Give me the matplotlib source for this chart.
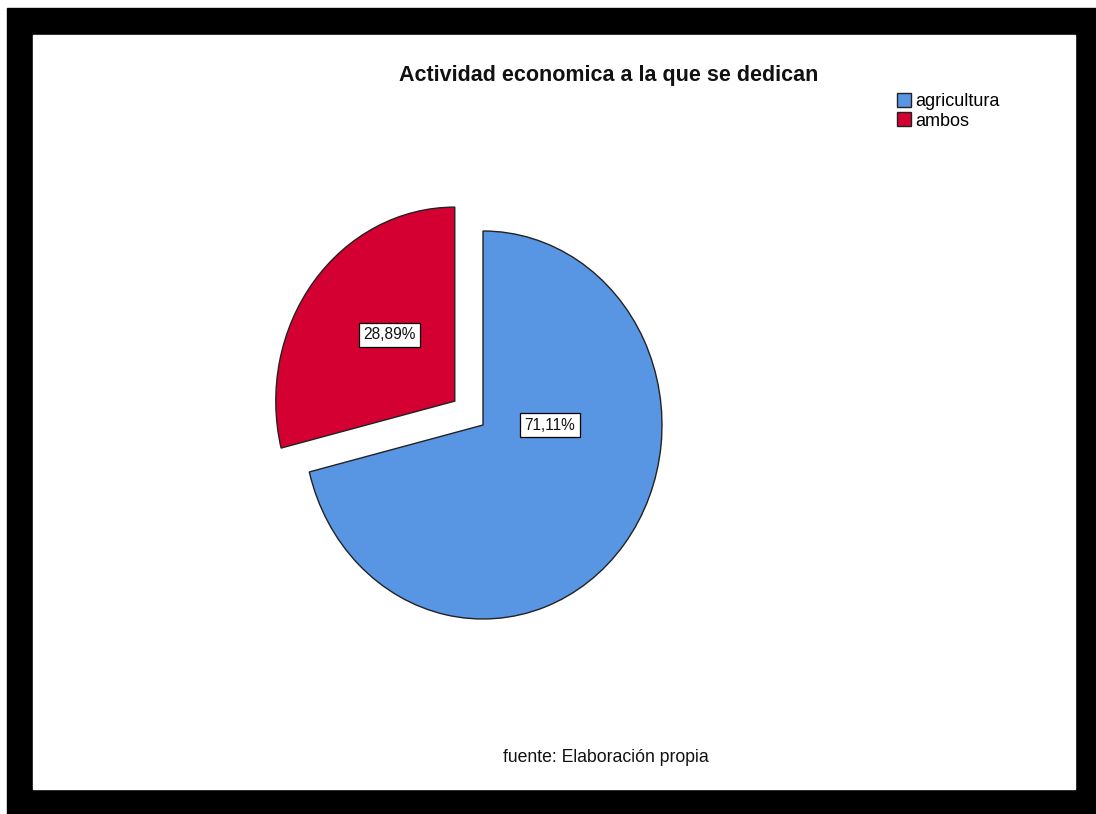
import matplotlib.pyplot as plt
from matplotlib import font_manager
from matplotlib.patches import Rectangle

# Actividad económica: porcentajes por categoría
categorias = ["agricultura", "ambos"]
porcentajes = [71.11, 28.89]
colores = ["#5895E3", "#D50032"]
separacion = [0.0, 0.2]

titulo = "Actividad economica a la que se dedican"
fuente = "fuente: Elaboración propia"

W, H = 1096, 814
fig = plt.figure(figsize=(W / 100, H / 100), dpi=100)
fig.patch.set_facecolor("white")
plt.rcParams["font.family"] = ["Liberation Sans", "DejaVu Sans"]

# narrow face for the percentage boxes, if it is around
nombres = {f.name for f in font_manager.fontManager.ttflist}
if "Liberation Sans Narrow" in nombres:
    fam_etq, tam_etq = ["Liberation Sans Narrow", "Liberation Sans"], 13
else:
    fam_etq, tam_etq = ["Liberation Sans", "DejaVu Sans"], 11.2


def px_rect(x0, y0, x1, y1):
    # pixel box (top-left origin) -> figure fraction
    return [x0 / W, 1 - y1 / H, (x1 - x0) / W, (y1 - y0) / H]


# black frame with a white panel inside, on a background axes
bg = fig.add_axes([0, 0, 1, 1], zorder=-1)
bg.set_xlim(0, W)
bg.set_ylim(H, 0)
bg.axis("off")
bg.add_patch(Rectangle((7, 8), W - 7, H - 8, color="black"))
bg.add_patch(Rectangle((33, 35), 1075 - 33, 789 - 35, color="white"))

# pie axes: centre at pixel (483, 425), radius 179 px across, 194 px down
ax = fig.add_axes(px_rect(283, 205, 683, 645), zorder=1)
wedges, _ = ax.pie(porcentajes, colors=colores, explode=separacion,
                   startangle=90, counterclock=False,
                   wedgeprops=dict(edgecolor="#222222", linewidth=1.0))
ax.set_aspect("auto")
ax.set_xlim(-200 / 179, 200 / 179)
ax.set_ylim(-220 / 194, 220 / 194)
ax.axis("off")

# percentage boxes
pos_etiquetas = [(0.374, 0.0), (-0.522, 0.464)]
for v, (x, y) in zip(porcentajes, pos_etiquetas):
    ax.text(x, y, f"{v:.2f}%".replace(".", ","), ha="center", va="center",
            fontsize=tam_etq, family=fam_etq, color="#111111",
            bbox=dict(boxstyle="square,pad=0.3", facecolor="white",
                      edgecolor="black", linewidth=0.9))

fig.text(609 / W, 1 - 75 / H, titulo, ha="center", va="center",
         fontsize=15.5, fontweight="bold", color="#111111")
fig.text(606 / W, 1 - 757 / H, fuente, ha="center", va="center",
         fontsize=12.7, color="#111111")

fig.legend(wedges, categorias, loc="upper left",
           bbox_to_anchor=(888 / W, 1 - 84 / H), frameon=False,
           handlelength=0.8, handleheight=0.8, handletextpad=0.2,
           labelspacing=0.12, borderpad=0, fontsize=13)

fig.savefig("out.png", dpi=100)
